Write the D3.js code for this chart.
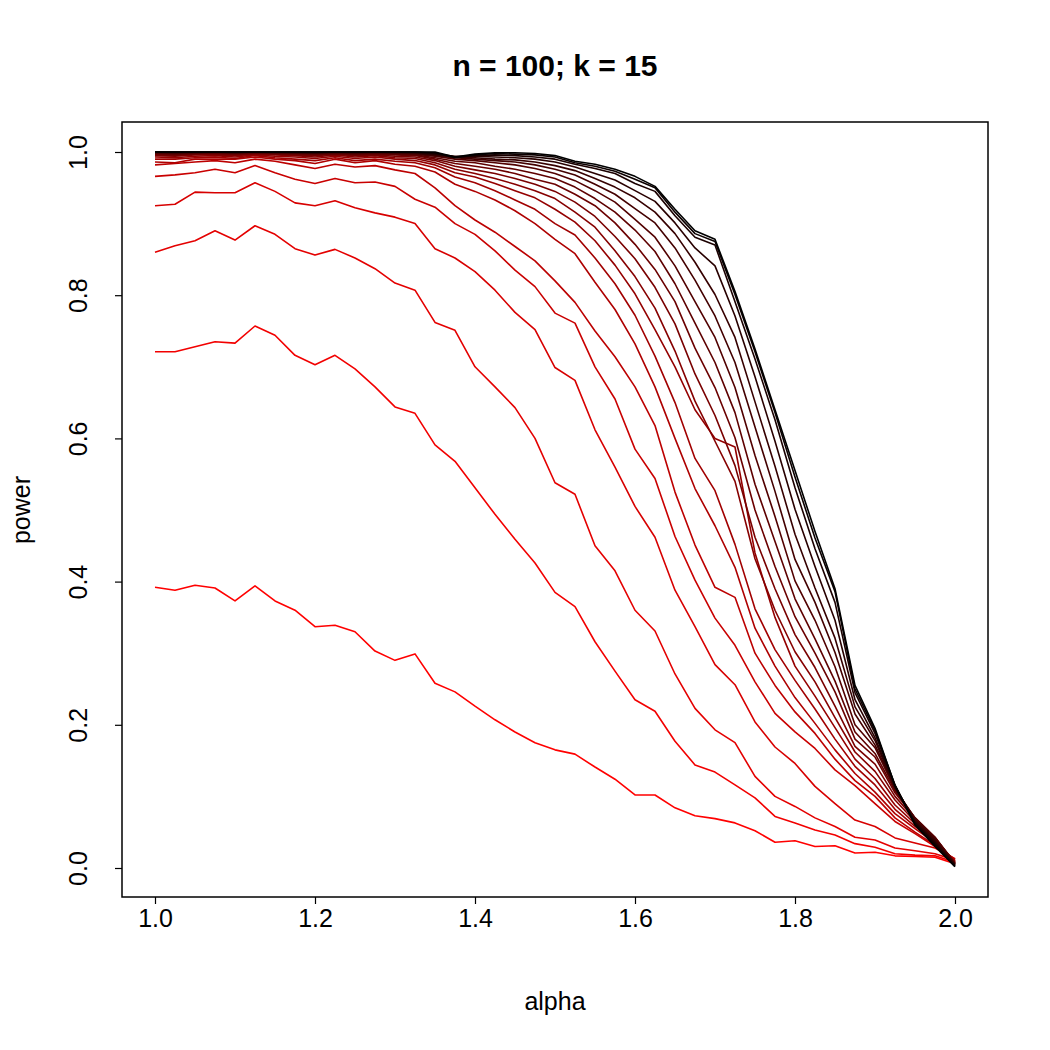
<!DOCTYPE html>
<html><head><meta charset="utf-8">
<script src="https://cdn.jsdelivr.net/npm/d3@7"></script>
<style>body{margin:0;background:#fff}svg{display:block}text{font-family:"Liberation Sans",Arial,Helvetica,sans-serif}</style>
</head><body>
<script>
const alphaGrid=[1.000,1.025,1.050,1.075,1.100,1.125,1.150,1.175,1.200,1.225,1.250,1.275,1.300,1.325,1.350,1.375,1.400,1.425,1.450,1.475,1.500,1.525,1.550,1.575,1.600,1.625,1.650,1.675,1.700,1.725,1.750,1.775,1.800,1.825,1.850,1.875,1.900,1.925,1.950,1.975,2.000];
const xTicks=[1.0,1.2,1.4,1.6,1.8,2.0];
const yTicks=[0.0,0.2,0.4,0.6,0.8,1.0];
const titleText="n = 100; k = 15";
const xLabel="alpha", yLabel="power";

const L1=[0.392,0.388,0.395,0.391,0.373,0.394,0.373,0.360,0.337,0.339,0.330,0.303,0.290,0.299,0.258,0.246,0.226,0.207,0.190,0.175,0.165,0.159,0.141,0.124,0.102,0.102,0.084,0.073,0.069,0.063,0.052,0.036,0.038,0.030,0.031,0.021,0.022,0.017,0.016,0.015,0.006];
const L2=[0.721,0.721,0.728,0.735,0.733,0.757,0.744,0.716,0.703,0.716,0.697,0.672,0.644,0.635,0.591,0.568,0.531,0.494,0.459,0.426,0.385,0.365,0.316,0.275,0.235,0.219,0.177,0.144,0.134,0.116,0.098,0.072,0.063,0.053,0.046,0.034,0.029,0.020,0.018,0.017,0.008];
const L3=[0.860,0.869,0.876,0.890,0.877,0.897,0.885,0.865,0.856,0.864,0.852,0.837,0.817,0.807,0.762,0.751,0.700,0.672,0.643,0.600,0.538,0.522,0.450,0.415,0.360,0.331,0.271,0.223,0.193,0.175,0.128,0.100,0.086,0.070,0.058,0.043,0.039,0.028,0.024,0.020,0.011];
const L4=[0.925,0.927,0.944,0.943,0.943,0.957,0.945,0.929,0.925,0.932,0.922,0.915,0.909,0.900,0.865,0.852,0.833,0.807,0.776,0.752,0.699,0.681,0.612,0.560,0.505,0.462,0.388,0.337,0.284,0.256,0.204,0.169,0.146,0.114,0.090,0.067,0.058,0.042,0.035,0.028,0.013];
const L5=[0.966,0.968,0.971,0.976,0.971,0.981,0.971,0.962,0.956,0.963,0.957,0.958,0.952,0.934,0.923,0.900,0.885,0.862,0.835,0.812,0.775,0.761,0.700,0.655,0.585,0.544,0.463,0.402,0.349,0.311,0.260,0.216,0.190,0.167,0.137,0.115,0.090,0.065,0.048,0.030,0.012];
const L6=[0.982,0.984,0.986,0.988,0.985,0.990,0.987,0.982,0.977,0.983,0.979,0.981,0.975,0.970,0.950,0.925,0.905,0.888,0.868,0.848,0.820,0.790,0.750,0.714,0.672,0.618,0.525,0.451,0.392,0.378,0.300,0.255,0.218,0.188,0.152,0.122,0.100,0.070,0.050,0.032,0.012];
const L7=[0.986,0.985,0.990,0.990,0.990,0.993,0.990,0.988,0.984,0.990,0.985,0.988,0.983,0.980,0.972,0.955,0.945,0.933,0.918,0.900,0.878,0.858,0.818,0.780,0.732,0.672,0.600,0.530,0.478,0.420,0.335,0.282,0.238,0.202,0.165,0.132,0.106,0.076,0.055,0.035,0.010];
const L8=[0.990,0.990,0.992,0.993,0.991,0.995,0.992,0.990,0.988,0.992,0.988,0.990,0.987,0.985,0.978,0.965,0.957,0.946,0.933,0.920,0.900,0.884,0.852,0.816,0.772,0.715,0.650,0.572,0.527,0.452,0.362,0.305,0.262,0.222,0.180,0.142,0.116,0.082,0.058,0.036,0.010];
const L9=[0.993,0.992,0.994,0.995,0.993,0.996,0.994,0.993,0.991,0.994,0.991,0.993,0.990,0.988,0.982,0.971,0.965,0.956,0.946,0.936,0.920,0.902,0.876,0.842,0.802,0.752,0.700,0.640,0.600,0.588,0.440,0.350,0.282,0.240,0.196,0.152,0.125,0.088,0.062,0.038,0.008];
const L10=[0.995,0.994,0.996,0.996,0.995,0.997,0.996,0.995,0.993,0.996,0.993,0.995,0.992,0.991,0.985,0.976,0.970,0.963,0.955,0.946,0.935,0.916,0.895,0.862,0.826,0.782,0.722,0.652,0.596,0.540,0.432,0.360,0.302,0.260,0.210,0.162,0.135,0.095,0.065,0.040,0.008];
const L11=[0.996,0.995,0.997,0.997,0.996,0.998,0.997,0.996,0.995,0.997,0.995,0.996,0.994,0.993,0.988,0.980,0.975,0.970,0.963,0.955,0.945,0.930,0.910,0.882,0.851,0.811,0.760,0.690,0.632,0.562,0.462,0.390,0.326,0.280,0.226,0.170,0.145,0.100,0.068,0.042,0.007];
const L12=[0.997,0.996,0.998,0.998,0.997,0.998,0.998,0.997,0.996,0.998,0.996,0.997,0.996,0.995,0.990,0.984,0.980,0.976,0.970,0.962,0.955,0.941,0.925,0.901,0.871,0.836,0.791,0.726,0.671,0.601,0.500,0.421,0.351,0.300,0.246,0.180,0.155,0.105,0.070,0.043,0.007];
const L13=[0.998,0.997,0.998,0.999,0.998,0.999,0.998,0.998,0.997,0.998,0.997,0.998,0.997,0.996,0.992,0.987,0.985,0.980,0.976,0.970,0.963,0.951,0.935,0.916,0.891,0.861,0.816,0.761,0.706,0.636,0.536,0.456,0.376,0.320,0.261,0.190,0.160,0.108,0.070,0.043,0.006];
const L14=[0.999,0.998,0.999,0.999,0.999,0.999,0.999,0.999,0.998,0.999,0.998,0.999,0.998,0.997,0.994,0.990,0.988,0.985,0.982,0.977,0.970,0.960,0.946,0.930,0.906,0.881,0.841,0.791,0.741,0.671,0.576,0.491,0.401,0.346,0.281,0.200,0.168,0.110,0.070,0.042,0.006];
const L15=[0.999,0.999,0.999,1.000,0.999,1.000,0.999,0.999,0.999,0.999,0.999,0.999,0.999,0.998,0.995,0.992,0.990,0.988,0.986,0.982,0.976,0.968,0.955,0.941,0.921,0.901,0.866,0.821,0.771,0.706,0.616,0.526,0.431,0.371,0.301,0.215,0.172,0.112,0.068,0.040,0.005];
const L16=[1.000,0.999,1.000,1.000,0.999,1.000,1.000,0.999,0.999,1.000,0.999,1.000,0.999,0.999,0.996,0.993,0.992,0.990,0.989,0.986,0.981,0.974,0.963,0.951,0.936,0.916,0.886,0.846,0.801,0.741,0.651,0.561,0.466,0.391,0.321,0.225,0.178,0.112,0.066,0.038,0.005];
const L17=[1.000,1.000,1.000,1.000,1.000,1.000,1.000,1.000,0.999,1.000,1.000,1.000,1.000,0.999,0.997,0.994,0.994,0.993,0.992,0.990,0.986,0.979,0.970,0.961,0.946,0.931,0.901,0.866,0.841,0.771,0.686,0.596,0.501,0.421,0.346,0.235,0.182,0.114,0.064,0.036,0.004];
const L18=[1.000,1.000,1.000,1.000,1.000,1.000,1.000,1.000,1.000,1.000,1.000,1.000,1.000,1.000,0.998,0.993,0.995,0.996,0.995,0.993,0.990,0.983,0.977,0.970,0.956,0.945,0.911,0.881,0.870,0.791,0.711,0.626,0.531,0.446,0.371,0.245,0.188,0.115,0.063,0.034,0.003];
const L19=[1.000,1.000,1.000,1.000,1.000,1.000,1.000,1.000,1.000,1.000,1.000,1.000,1.000,1.000,0.999,0.992,0.996,0.998,0.997,0.996,0.993,0.985,0.980,0.973,0.962,0.950,0.916,0.886,0.875,0.801,0.721,0.636,0.546,0.461,0.386,0.250,0.192,0.116,0.061,0.032,0.002];
const L20=[1.000,1.000,1.000,1.000,1.000,1.000,1.000,1.000,1.000,1.000,1.000,1.000,1.000,1.000,1.000,0.993,0.997,0.999,0.999,0.998,0.995,0.987,0.983,0.976,0.966,0.952,0.920,0.890,0.878,0.805,0.725,0.640,0.555,0.470,0.390,0.255,0.195,0.115,0.060,0.030,0.002];
const seriesList=[L1,L2,L3,L4,L5,L6,L7,L8,L9,L10,L11,L12,L13,L14,L15,L16,L17,L18,L19,L20];

const W=1050,H=1050;
const box={l:122,r:988,t:122,b:897};
const svg=d3.select("body").append("svg").attr("width",W).attr("height",H);
svg.append("rect").attr("width",W).attr("height",H).attr("fill","#fff");

const x=d3.scaleLinear().domain([1,2]).range([155,955]);
const y=d3.scaleLinear().domain([0,1]).range([868,152]);
const col=d3.interpolateRgb("#ff0000","#000000");
const line=d3.line().x((d,i)=>x(alphaGrid[i])).y(d=>y(d));

svg.append("g").selectAll("path").data(seriesList).join("path")
  .attr("d",line).attr("fill","none")
  .attr("stroke",(d,i)=>col(i/(seriesList.length-1)))
  .attr("stroke-width",1.6).attr("stroke-linejoin","round");

svg.append("rect").attr("x",box.l).attr("y",box.t).attr("width",box.r-box.l).attr("height",box.b-box.t)
  .attr("fill","none").attr("stroke","#000").attr("stroke-width",1.5);

const xa=svg.append("g").attr("transform",`translate(0,${box.b})`)
  .call(d3.axisBottom(x).tickValues(xTicks).tickSize(7).tickSizeOuter(0).tickPadding(0).tickFormat(d3.format(".1f")));
xa.select(".domain").remove();
xa.selectAll("line").attr("stroke","#000").attr("stroke-width",1.2);
xa.selectAll("text").attr("font-size",25).attr("fill","#000").attr("dy",null).attr("y",30);

const ya=svg.append("g").attr("transform",`translate(${box.l},0)`)
  .call(d3.axisLeft(y).tickValues(yTicks).tickSize(7).tickSizeOuter(0).tickFormat(d3.format(".1f")));
ya.select(".domain").remove();
ya.selectAll("line").attr("stroke","#000").attr("stroke-width",1.2);
ya.selectAll("text").attr("font-size",25).attr("fill","#000")
  .attr("x",null).attr("dy",null).attr("text-anchor","middle")
  .attr("transform","translate(-35,0) rotate(-90)");

svg.append("text").attr("x",555).attr("y",76).attr("text-anchor","middle")
  .attr("font-size",30).attr("font-weight","bold").text(titleText);
svg.append("text").attr("x",555).attr("y",1010).attr("text-anchor","middle")
  .attr("font-size",25).text(xLabel);
svg.append("text").attr("transform","translate(30,510) rotate(-90)").attr("text-anchor","middle")
  .attr("font-size",25).text(yLabel);
</script>
</body></html>
